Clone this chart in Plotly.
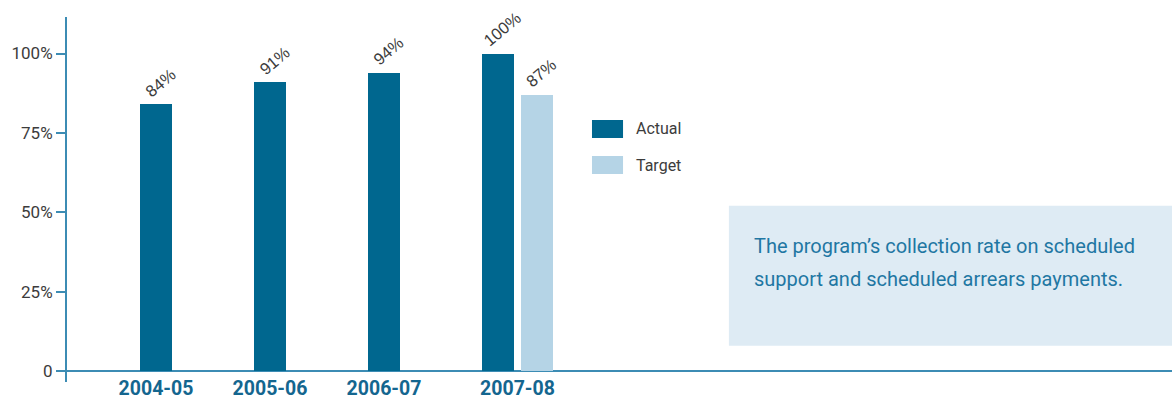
import plotly.graph_objects as go

# ---- data -------------------------------------------------------------
years = ["2004-05", "2005-06", "2006-07", "2007-08"]
actual = [84, 91, 94, 100]
target = [None, None, None, 87]
series_names = ["Actual", "Target"]
y_tick_values = [0, 25, 50, 75, 100]
y_tick_labels = ["0", "25%", "50%", "75%", "100%"]
note_lines = [
    "The program’s collection rate on scheduled",
    "support and scheduled arrears payments.",
]

# ---- style ------------------------------------------------------------
DARK = "#00678f"
LIGHT = "#b5d4e6"
AXIS = "#3c8cb4"
NOTE_BG = "#deebf4"
NOTE_TXT = "#1f77a3"
LABEL_TXT = "#3c3c3c"
YEAR_TXT = "#14668f"
SANS = "Roboto, sans-serif"
PLAIN = "Liberation Sans, Arial, sans-serif"

BAR_W = 0.28      # bar width in category units
PAIR_GAP = 0.342  # distance between the actual and target bar centres

x_actual = list(range(len(years)))
x_target = [i + PAIR_GAP for i, t in enumerate(target) if t is not None]
y_target = [t for t in target if t is not None]
tick_pos = [i + (PAIR_GAP / 2 if t is not None else 0) for i, t in enumerate(target)]

fig = go.Figure()
fig.add_trace(go.Bar(x=x_actual, y=actual, width=BAR_W, name=series_names[0],
                     marker=dict(color=DARK, line=dict(width=0)), showlegend=False))
fig.add_trace(go.Bar(x=x_target, y=y_target, width=BAR_W, name=series_names[1],
                     marker=dict(color=LIGHT, line=dict(width=0)), showlegend=False))

annotations = []
# rotated value labels above each bar
for xs, ys in ((x_actual, actual), (x_target, y_target)):
    for xv, yv in zip(xs, ys):
        annotations.append(dict(
            x=xv, y=yv, xref="x", yref="y", text=f"{yv}%", showarrow=False,
            textangle=-40, xanchor="center", yanchor="bottom", xshift=4, yshift=1,
            font=dict(family=PLAIN, size=16.5, color=LABEL_TXT)))

shapes = []
# legend swatches and names
legend_rows = [(series_names[0], DARK, 0.718), (series_names[1], LIGHT, 0.619)]
for name, color, top in legend_rows:
    shapes.append(dict(type="rect", xref="paper", yref="paper",
                       x0=0.4751, x1=0.5032, y0=top - 0.0493, y1=top,
                       fillcolor=color, line=dict(width=0)))
    annotations.append(dict(x=0.5131, y=top - 0.0247, xref="paper", yref="paper",
                            text=name, showarrow=False, xanchor="left", yanchor="middle",
                            font=dict(family=SANS, size=16, color=LABEL_TXT)))

# explanatory note box
shapes.append(dict(type="rect", xref="paper", yref="paper", x0=0.599, x1=1.0,
                   y0=0.0995, y1=0.483, fillcolor=NOTE_BG, line=dict(width=0), layer="below"))
for line, yp in zip(note_lines, (0.373, 0.282)):
    annotations.append(dict(x=0.6199, y=yp, xref="paper", yref="paper", text=line,
                            showarrow=False, xanchor="left", yanchor="middle",
                            font=dict(family=SANS, size=20, color=NOTE_TXT)))

fig.update_layout(
    width=1172, height=400,
    margin=dict(l=67, r=0, t=17, b=18, pad=0),
    paper_bgcolor="white", plot_bgcolor="white",
    bargap=0, shapes=shapes, annotations=annotations,
    xaxis=dict(range=[-0.781, 8.912], tickvals=tick_pos, ticktext=years,
               automargin=False, showgrid=False, zeroline=False, showline=False, ticks="",
               ticklabelstandoff=-8,
               tickfont=dict(family=SANS, size=19.5, color=YEAR_TXT, weight="bold")),
    yaxis=dict(range=[-3.46, 111.5], tickvals=y_tick_values, ticktext=y_tick_labels,
               automargin=False, showgrid=False, ticks="outside", ticklen=9,
               tickwidth=1.5, tickcolor=AXIS,
               showline=True, linecolor=AXIS, linewidth=2,
               zeroline=True, zerolinecolor=AXIS, zerolinewidth=2,
               tickfont=dict(family=SANS, size=17, color=LABEL_TXT)),
)

fig.write_html("out.html")
